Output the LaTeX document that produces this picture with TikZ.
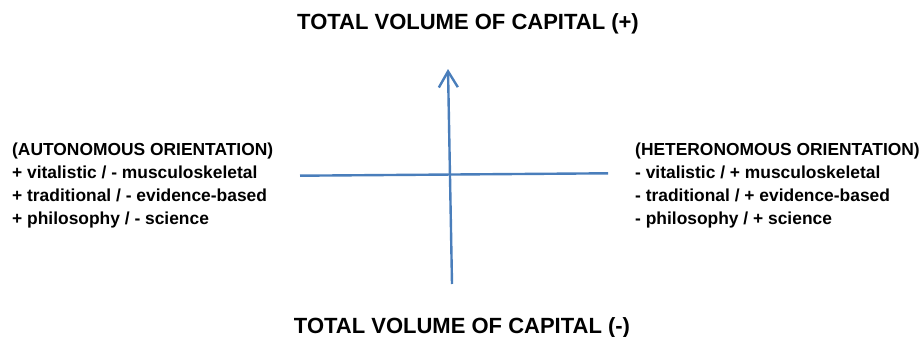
\documentclass[tikz,border=0pt]{standalone}
\usepackage{fontspec}
\setmainfont{Liberation Sans}
\usetikzlibrary{arrows.meta}
\definecolor{axisblue}{RGB}{74,126,187}

\begin{document}
\begin{tikzpicture}[x=1pt,y=-1pt,
  axis/.style={draw=axisblue,line width=2.4pt},
  title/.style={font=\bfseries\fontsize{22}{26}\selectfont,inner sep=0pt,anchor=base},
  block/.style={font=\bfseries\fontsize{17.4}{23}\selectfont,inner sep=0pt,align=left,anchor=north west}]
  \useasboundingbox (0,0) rectangle (923,337);
  \node[title] (top) at (468,30) {TOTAL VOLUME OF CAPITAL (+)};
  \node[title] (bottom) at (462,333) {TOTAL VOLUME OF CAPITAL (-)};
  \node[block] (auto) at (12,142.5) {(AUTONOMOUS ORIENTATION)\\
    + vitalistic / - musculoskeletal\\
    + traditional / - evidence-based\\
    + philosophy / - science};
  \node[block] (hetero) at (635,142.5) {(HETERONOMOUS ORIENTATION)\\
    - vitalistic / + musculoskeletal\\
    - traditional / + evidence-based\\
    - philosophy / + science};
  \coordinate (yl) at (452,284);
  \coordinate (yh) at (448,69);
  \coordinate (xl) at (300,175.7);
  \coordinate (xh) at (608,173.3);
  \draw[axis] (xl) -- (xh);
  \draw[axis,-{Straight Barb[length=16pt,width=19pt]}] (yl) -- (yh);
\end{tikzpicture}
\end{document}
